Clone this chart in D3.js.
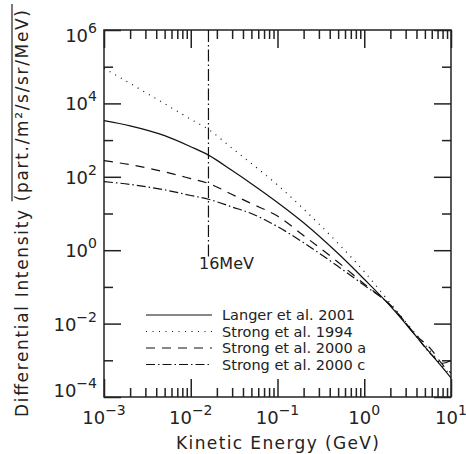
<!DOCTYPE html>
<html>
<head>
<meta charset="utf-8">
<script src="https://cdn.jsdelivr.net/npm/d3@7"></script>
<style>
  body { margin: 0; background: #fff; }
  svg text { font-family: "DejaVu Sans", sans-serif; fill: #222; }
</style>
</head>
<body>
<svg id="chart" width="466" height="454"></svg>
<script>
// energies in GeV, intensities in part./m2/s/sr/MeV
const energy = [0.001, 0.002, 0.005, 0.01, 0.016, 0.03, 0.05, 0.1, 0.2, 0.5, 1, 2, 4, 6, 8, 10];
const langer2001 = [3400, 2450, 1320, 660, 390, 148, 65, 20, 5.6, 0.81, 0.162, 0.030, 4.4e-3, 1.4e-3, 6.3e-4, 3.3e-4];
const strong1994 = [9.1e4, 3.5e4, 9800, 3700, 1950, 600, 230, 60, 13.2, 1.53, 0.26, 0.036, 5.0e-3, 1.6e-3, 6.9e-4, 3.8e-4];
const strong2000a = [275, 214, 136, 89, 66, 33, 18.6, 8.5, 2.5, 0.47, 0.12, 0.032, 4.7e-3, 1.9e-3, 7.6e-4, 4.5e-4];
const strong2000c = [74, 62, 44, 31, 24.5, 15, 10, 4.4, 1.6, 0.36, 0.11, 0.032, 4.4e-3, 1.4e-3, 8.3e-4, 1.0e-3];

const seriesNames = ["Langer et al. 2001", "Strong et al. 1994", "Strong et al. 2000 a", "Strong et al. 2000 c"];
const seriesValues = [langer2001, strong1994, strong2000a, strong2000c];
const dashes = [null, "1,5.5", "9,7", "9,3,1.5,3"];

const xMajor = [1e-3, 1e-2, 1e-1, 1, 10];
const xExp = ["\u22123", "\u22122", "\u22121", "0", "1"];
const yMajor = [1e-4, 1e-2, 1, 1e2, 1e4, 1e6];
const yExp = ["\u22124", "\u22122", "0", "2", "4", "6"];
const yMinor = [1e-3, 1e-1, 10, 1e3, 1e5];
const cutEnergy = 0.016;

const L = 104, R = 451, T = 30, B = 397;
const svg = d3.select("#chart");
const x = d3.scaleLog().domain([1e-3, 10]).range([L, R]);
const y = d3.scaleLog().domain([1e-4, 1e6]).range([B, T]);

var xMinor = [];
for (let d = 1e-3; d < 10; d *= 10)
  for (let k = 2; k <= 9; k++) xMinor.push(d * k);

function axisPart(axis, tr, vals, size) {
  var g = svg.append("g").attr("transform", tr)
    .call(axis.tickValues(vals).tickSize(size).tickFormat(""));
  g.select(".domain").remove();
  g.selectAll("line").attr("stroke", "#222").attr("stroke-width", 1.5);
}
axisPart(d3.axisTop(x), `translate(0,${B})`, xMajor, 18);
axisPart(d3.axisTop(x), `translate(0,${B})`, xMinor, 9);
axisPart(d3.axisBottom(x), `translate(0,${T})`, xMajor, 18);
axisPart(d3.axisBottom(x), `translate(0,${T})`, xMinor, 9);
axisPart(d3.axisRight(y), `translate(${L},0)`, yMajor, 17);
axisPart(d3.axisRight(y), `translate(${L},0)`, yMinor, 9);
axisPart(d3.axisLeft(y), `translate(${R},0)`, yMajor, 17);
axisPart(d3.axisLeft(y), `translate(${R},0)`, yMinor, 9);

svg.append("rect").attr("x", L).attr("y", T).attr("width", R - L).attr("height", B - T)
  .attr("fill", "none").attr("stroke", "#222").attr("stroke-width", 1.5);

// tick labels
function power(sel, exp) {
  sel.append("tspan").text("10");
  sel.append("tspan").attr("font-size", 14).attr("dy", -9).text(exp);
}
xMajor.forEach((v, i) => {
  svg.append("text").attr("x", x(v)).attr("y", 424).attr("font-size", 18)
    .attr("text-anchor", "middle").call(power, xExp[i]);
});
yMajor.forEach((v, i) => {
  var off = i == 0 ? 0 : (i == yMajor.length - 1 ? 12 : 7);
  svg.append("text").attr("x", 97).attr("y", y(v) + off).attr("font-size", 18)
    .attr("text-anchor", "end").call(power, yExp[i]);
});

// curves
svg.append("clipPath").attr("id", "clip").append("rect")
  .attr("x", L).attr("y", T).attr("width", R - L).attr("height", B - T);
var line = d3.line().x((d) => x(d[0])).y((d) => y(d[1])).curve(d3.curveMonotoneX);
seriesValues.forEach((vals, i) => {
  svg.append("path").attr("clip-path", "url(#clip)")
    .attr("d", line(energy.map((e, j) => [e, vals[j]])))
    .attr("fill", "none").attr("stroke", "#111").attr("stroke-width", 1.2)
    .attr("stroke-dasharray", dashes[i]);
});

// 16 MeV marker
svg.append("line").attr("x1", x(cutEnergy)).attr("x2", x(cutEnergy))
  .attr("y1", T).attr("y2", 257)
  .attr("stroke", "#111").attr("stroke-width", 1.2).attr("stroke-dasharray", "12,3,1.5,3");
svg.append("text").attr("x", x(cutEnergy) + 18).attr("y", 269).attr("font-size", 16)
  .attr("text-anchor", "middle").text("16MeV");

// legend
seriesNames.forEach((name, i) => {
  var ly = 315 + i * 16.5;
  svg.append("line").attr("x1", 146).attr("x2", 212).attr("y1", ly).attr("y2", ly)
    .attr("stroke", "#111").attr("stroke-width", 1.2).attr("stroke-dasharray", dashes[i]);
  svg.append("text").attr("x", 222).attr("y", ly + 5).attr("font-size", 14.5).text(name);
});

// axis titles
svg.append("text").attr("x", (L + R) / 2).attr("y", 449).attr("font-size", 17)
  .attr("text-anchor", "middle").attr("textLength", 203).attr("lengthAdjust", "spacing")
  .text("Kinetic Energy (GeV)");

var ytitle = "Differential Intensity (part./m\u00b2/s/sr/MeV)";
var yt = svg.append("g").attr("transform", `translate(28,${(T + B) / 2}) rotate(-90)`);
var ytext = yt.append("text").attr("font-size", 17).attr("text-anchor", "middle")
  .attr("textLength", 407).attr("lengthAdjust", "spacing").text(ytitle);
var node = ytext.node();
var p0 = node.getStartPositionOfChar(ytitle.indexOf("(")).x;
var bb = node.getBBox();
yt.append("line").attr("x1", p0).attr("x2", bb.x + bb.width + 6)
  .attr("y1", -16).attr("y2", -16).attr("stroke", "#222").attr("stroke-width", 1.2);
</script>
</body>
</html>
